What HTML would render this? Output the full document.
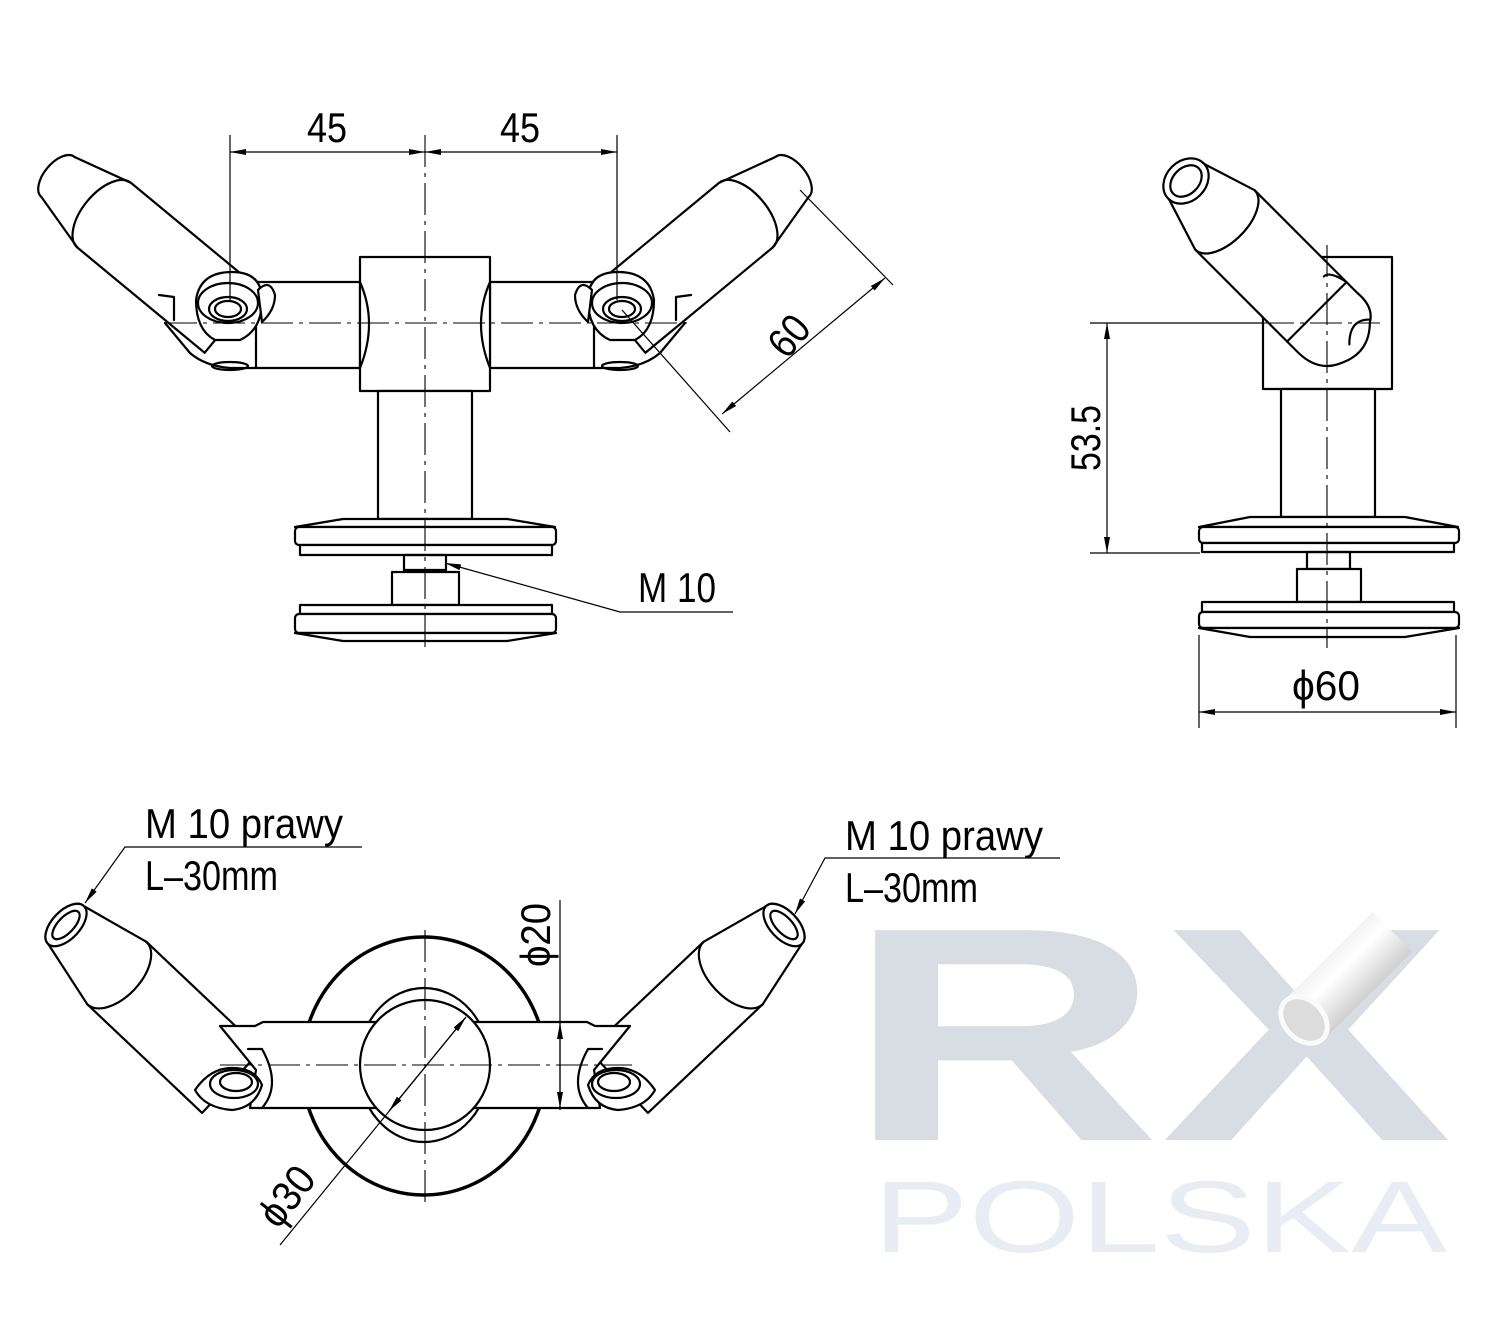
<!DOCTYPE html>
<html><head><meta charset="utf-8"><style>
html,body{margin:0;padding:0;background:#fff}
svg{display:block}
.o{fill:none;stroke:#000;stroke-width:2.2;stroke-linejoin:round;stroke-linecap:round}
.w{fill:#fff;stroke:#000;stroke-width:2.2;stroke-linejoin:round}
.d{fill:none;stroke:#000;stroke-width:1.2}
.c{fill:none;stroke:#000;stroke-width:1.1;stroke-dasharray:32 6 4 6}
.t{font-family:"Liberation Sans Narrow","Liberation Sans",sans-serif;font-size:42px;fill:#000}
</style></head><body>
<svg width="1500" height="1331" viewBox="0 0 1500 1331" xmlns="http://www.w3.org/2000/svg">
<defs>
<marker id="a" viewBox="0 0 16 6" refX="16" refY="3" markerWidth="16" markerHeight="6" markerUnits="userSpaceOnUse" orient="auto-start-reverse"><path d="M0,0 L16,3 L0,6z" fill="#000"/></marker>
<linearGradient id="pg" x1="0" y1="0" x2="1" y2="0"><stop offset="0" stop-color="#f2f2f2"/><stop offset="0.35" stop-color="#ffffff"/><stop offset="1" stop-color="#cfcfcf"/></linearGradient>
<g id="farm">
  <g transform="translate(58,177) rotate(39.6)">
    <path class="w" d="M0,-26 L60,-42 L225,-42 L225,42 L60,42 L0,26 A14,26 0 0 1 0,-26z"/>
    <path class="o" d="M60,-42 A22,42 0 0 0 60,42"/>
  </g>
  <path class="w" d="M256,282 L360,282 L360,368 L256,368z"/>
  <path class="o" d="M159,295 L174,297 L174,320"/>
  <path class="o" d="M165,323 L190,353 Q205,366 230,368 L256,368"/>
  <ellipse class="o" cx="230" cy="366" rx="18" ry="4"/>
  <path class="w" d="M196,300 Q200,272 232,272 Q262,272 262,300 Q262,330 240,340 L215,340 Q196,330 196,300z"/>
  <path class="w" d="M258,290 Q270,278 275,295 Q275,310 262,322z"/>
  <ellipse class="o" cx="228" cy="303" rx="30" ry="20"/>
  <ellipse class="o" cx="228" cy="309" rx="19" ry="12"/>
  <ellipse class="o" cx="228" cy="309" rx="13" ry="8"/>
  <path class="o" d="M360,282 Q378,323 360,368"/>
</g>
<g id="tarm">
  <g transform="translate(66,925) rotate(43.4)">
    <path class="w" d="M0,-26 L70,-43 L228,-43 L228,43 L70,43 L0,26 A14,26 0 0 1 0,-26z"/>
    <path class="o" d="M70,-43 A24,43 0 0 1 70,43"/>
    <ellipse class="w" cx="0" cy="0" rx="14" ry="26"/>
    <ellipse class="o" cx="0" cy="0" rx="8" ry="18"/>
  </g>
</g>
</defs>

<use href="#farm"/>
<use href="#farm" transform="translate(850,0) scale(-1,1)"/>
<rect class="w" x="360" y="257" width="130" height="134"/>
<path class="o" d="M360,282 Q378,323 360,368 M490,282 Q472,323 490,368"/>
<rect class="w" x="378" y="391" width="94" height="128"/>
<path class="w" d="M343,519 L507,519 L555,527 L295,527z"/>
<rect class="w" x="295" y="527" width="261" height="18" rx="4"/>
<rect class="w" x="300" y="545" width="252" height="10"/>
<rect class="o" x="404" y="555" width="42" height="15"/>
<rect class="w" x="392" y="572" width="67" height="33"/>
<rect class="w" x="300" y="605" width="252" height="9"/>
<rect class="w" x="295" y="614" width="261" height="19" rx="4"/>
<path class="w" d="M295,633 L556,633 L507,641 L343,641z"/>
<line class="c" x1="165" y1="323" x2="690" y2="323"/>
<line class="c" x1="425" y1="135" x2="425" y2="648"/>
<line class="d" x1="230" y1="135" x2="230" y2="300"/>
<line class="d" x1="617" y1="135" x2="617" y2="300"/>
<line class="d" x1="230" y1="152" x2="425" y2="152" marker-start="url(#a)" marker-end="url(#a)"/>
<line class="d" x1="425" y1="152" x2="617" y2="152" marker-start="url(#a)" marker-end="url(#a)"/>
<text class="t" x="307" y="142" textLength="40" lengthAdjust="spacingAndGlyphs">45</text>
<text class="t" x="500" y="142" textLength="40" lengthAdjust="spacingAndGlyphs">45</text>
<line class="d" x1="800" y1="190" x2="893" y2="285"/>
<line class="d" x1="622" y1="310" x2="730" y2="432"/>
<line class="d" x1="885" y1="278" x2="722" y2="414" marker-start="url(#a)" marker-end="url(#a)"/>
<text class="t" transform="translate(800,345) rotate(-50)" x="-20" textLength="40" lengthAdjust="spacingAndGlyphs">60</text>
<polyline class="d" points="733,612 620,612 445,563" marker-end="url(#a)"/>
<text class="t" x="638" y="602" textLength="78" lengthAdjust="spacingAndGlyphs">M 10</text>

<rect class="w" x="1263" y="257" width="129" height="132"/>
<rect class="w" x="1281" y="389" width="94" height="128"/>
<path class="w" d="M1250,517 L1405,517 L1458,527 L1199,527z"/>
<rect class="w" x="1199" y="527" width="260" height="16" rx="4"/>
<rect class="w" x="1202" y="543" width="252" height="9"/>
<rect class="o" x="1307" y="552" width="43" height="17"/>
<rect class="w" x="1297" y="569" width="64" height="33"/>
<rect class="w" x="1202" y="602" width="252" height="10"/>
<rect class="w" x="1199" y="612" width="260" height="16" rx="4"/>
<path class="w" d="M1199,628 L1459,628 L1405,637 L1250,637z"/>
<g transform="translate(1186,181) rotate(45)">
  <path class="w" d="M-2,-24 L55,-42 L200,-42 Q222,-44 230,-30 Q252,-8 238,20 Q228,42 200,42 L55,42 L-2,24 A14,24 0 0 1 -2,-24z"/>
  <path class="o" d="M55,-42 A22,42 0 0 1 55,42"/>
  <path class="o" d="M185,-42 L185,42 M185,-42 Q165,-38 165,-30"/>
  <ellipse class="w" cx="0" cy="0" rx="20" ry="25"/>
  <ellipse class="o" cx="0" cy="0" rx="13" ry="18"/>
  <path class="o" d="M228,-32 Q213,-18 231,0"/>
</g>
<line class="c" x1="1327" y1="245" x2="1327" y2="648"/>
<line class="d" x1="1090" y1="323" x2="1262" y2="323"/>
<line class="c" x1="1262" y1="323" x2="1380" y2="323"/>
<line class="d" x1="1090" y1="553" x2="1200" y2="553"/>
<line class="d" x1="1107" y1="323" x2="1107" y2="553" marker-start="url(#a)" marker-end="url(#a)"/>
<text class="t" transform="translate(1100,438) rotate(-90)" x="-33" textLength="66" lengthAdjust="spacingAndGlyphs">53.5</text>
<line class="d" x1="1199" y1="635" x2="1199" y2="728"/>
<line class="d" x1="1456" y1="635" x2="1456" y2="728"/>
<line class="d" x1="1199" y1="712" x2="1456" y2="712" marker-start="url(#a)" marker-end="url(#a)"/>
<text class="t" x="1292" y="700" textLength="68" lengthAdjust="spacingAndGlyphs">ϕ60</text>

<ellipse cx="424" cy="1066" rx="122" ry="129" fill="#fff" stroke="#000" stroke-width="3.5"/>
<ellipse class="o" cx="424" cy="1065" rx="66" ry="77"/>
<use href="#tarm"/>
<use href="#tarm" transform="translate(850,0) scale(-1,1)"/>
<path class="w" d="M220,1026 L255,1026 L263,1022 L587,1022 L595,1026 L630,1026 L594,1070 L600,1108 L250,1108 L256,1070z"/>
<g>
  <path class="w" d="M195,1090 Q210,1068 232,1068 Q255,1068 262,1085 Q255,1108 232,1110 Q205,1108 195,1090z"/>
  <ellipse class="o" cx="234" cy="1084" rx="24" ry="14"/>
  <ellipse class="o" cx="236" cy="1082" rx="16" ry="9"/>
  <path class="o" d="M248,1049 L262,1049 Q282,1085 262,1108"/>
  <path class="w" d="M655,1090 Q640,1068 618,1068 Q595,1068 588,1085 Q595,1108 618,1110 Q645,1108 655,1090z"/>
  <ellipse class="o" cx="616" cy="1084" rx="24" ry="14"/>
  <ellipse class="o" cx="614" cy="1082" rx="16" ry="9"/>
  <path class="o" d="M602,1049 L588,1049 Q568,1085 588,1108"/>
</g>
<ellipse class="w" cx="425" cy="1065" rx="65" ry="65"/>
<line class="c" x1="220" y1="1065" x2="632" y2="1065"/>
<line class="c" x1="425" y1="930" x2="425" y2="1205"/>
<line class="d" x1="560" y1="900" x2="560" y2="1110"/>
<line class="d" x1="560" y1="1066" x2="560" y2="1023" marker-end="url(#a)"/>
<line class="d" x1="560" y1="1066" x2="560" y2="1108" marker-end="url(#a)"/>
<text class="t" transform="translate(550,935) rotate(-90)" x="-32" textLength="64" lengthAdjust="spacingAndGlyphs">ϕ20</text>
<line class="d" x1="280" y1="1245" x2="466" y2="1017" marker-end="url(#a)"/>
<line class="d" x1="466" y1="1017" x2="389" y2="1111" marker-end="url(#a)"/>
<text class="t" transform="translate(298,1205) rotate(-52)" x="-32" textLength="64" lengthAdjust="spacingAndGlyphs">ϕ30</text>
<polyline class="d" points="362,847 125,847 85,903" marker-end="url(#a)"/>
<text class="t" x="145" y="838" textLength="198" lengthAdjust="spacingAndGlyphs">M 10 prawy</text>
<text class="t" x="145" y="890" textLength="133" lengthAdjust="spacingAndGlyphs">L–30mm</text>
<polyline class="d" points="1060,858 825,858 795,914" marker-end="url(#a)"/>
<text class="t" x="845" y="850" textLength="198" lengthAdjust="spacingAndGlyphs">M 10 prawy</text>
<text class="t" x="845" y="902" textLength="133" lengthAdjust="spacingAndGlyphs">L–30mm</text>

<text x="846" y="1140" font-family="Liberation Sans, sans-serif" font-weight="bold" font-size="305" fill="#d8dde3" textLength="606" lengthAdjust="spacingAndGlyphs">RX</text>
<g transform="translate(1304,1020) rotate(45)">
  <rect x="-28" y="-125" width="56" height="125" fill="url(#pg)"/>
  <ellipse cx="0" cy="0" rx="29" ry="22" fill="#fafafa"/>
  <ellipse cx="0" cy="0" rx="24" ry="17" fill="#dcdcdc"/>
</g>
<text x="873" y="1252" font-family="Liberation Sans, sans-serif" font-size="102" fill="#e8edf4" textLength="574" lengthAdjust="spacingAndGlyphs">POLSKA</text>
</svg>
</body></html>
